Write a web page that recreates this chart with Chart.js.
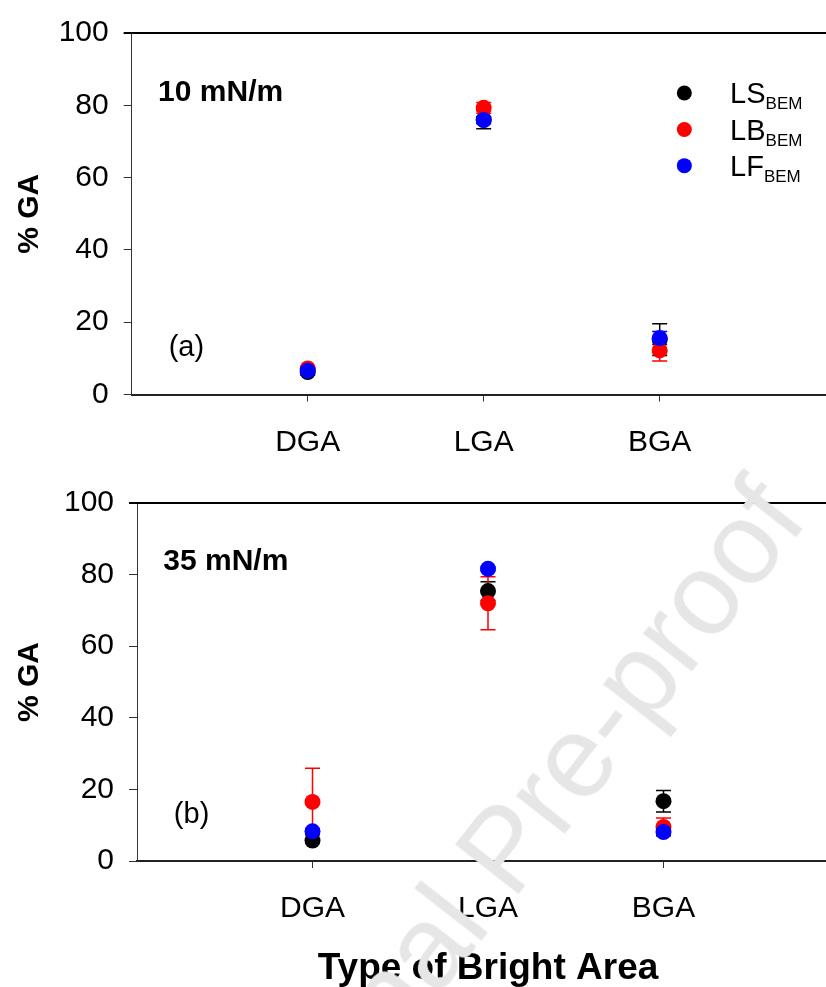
<!DOCTYPE html>
<html>
<head>
<meta charset="utf-8">
<script src="https://cdn.jsdelivr.net/npm/chart.js@4.4.1/dist/chart.umd.min.js"></script>
<style>
  body { margin: 0; background: #fff; overflow: hidden; width: 826px; height: 987px; position: relative; }
  .panel { position: absolute; left: 0; }
  #wm {
    position: absolute; left: 181px; top: 1166px; white-space: nowrap;
    font: 116px/1 "Liberation Sans", Arial, sans-serif; color: #e6e6e6;
    transform-origin: 0 0; transform: rotate(-52deg); pointer-events: none;
  }
</style>
</head>
<body>
<div class="panel" style="top:0"><canvas id="chartA" width="850" height="470"></canvas></div>
<div class="panel" style="top:470px"><canvas id="chartB" width="850" height="517"></canvas></div>
<div id="wm">Journal Pre-proof</div>
<script>
const FONT = '"Liberation Sans", Arial, sans-serif';

const categories = ['DGA', 'LGA', 'BGA'];
const yTicks = [0, 20, 40, 60, 80, 100];
const seriesNames = ['LS', 'LB', 'LF'];
const seriesSub = 'BEM';
const seriesColors = ['#000000', '#ff0000', '#0000ff'];

// (a) 10 mN/m
const ls10 = [6.2, 76.0, 15.2];
const ls10Err = [0.8, 2.5, 4.4];
const lb10 = [7.2, 79.3, 12.2];
const lb10Err = [0.5, 1.5, 2.9];
const lf10 = [6.6, 75.9, 15.6];
const lf10Err = [0.5, 1.0, 1.8];

// (b) 35 mN/m
const ls35 = [5.7, 75.4, 16.7];
const ls35Err = [0.5, 2.6, 3.0];
const lb35 = [16.5, 72.0, 9.5];
const lb35Err = [9.4, 7.4, 2.5];
const lf35 = [8.3, 81.6, 8.1];
const lf35Err = [0.8, 0.5, 1.0];

// error bars drawn under the points
const errorBars = {
  id: 'errorBars',
  beforeDatasetsDraw(chart) {
    const { ctx, scales: { x, y } } = chart;
    chart.data.datasets.forEach(ds => {
      ctx.save();
      ctx.strokeStyle = ds.backgroundColor;
      ctx.lineWidth = 1.5;
      ds.data.forEach((p, i) => {
        const e = ds.errors[i];
        const px = x.getPixelForValue(p.x);
        const top = y.getPixelForValue(p.y + e);
        const bot = y.getPixelForValue(p.y - e);
        ctx.beginPath();
        ctx.moveTo(px, top); ctx.lineTo(px, bot);
        ctx.moveTo(px - 7.5, top); ctx.lineTo(px + 7.5, top);
        ctx.moveTo(px - 7.5, bot); ctx.lineTo(px + 7.5, bot);
        ctx.stroke();
      });
      ctx.restore();
    });
  }
};

// frame line on top, panel labels, legend
const extras = {
  id: 'extras',
  afterDraw(chart, args, opts) {
    const { ctx, chartArea, scales: { x, y } } = chart;
    ctx.save();
    ctx.strokeStyle = '#000';
    ctx.lineWidth = 2;
    ctx.beginPath();
    ctx.moveTo(chartArea.left - 8, chartArea.top);
    ctx.lineTo(chart.width, chartArea.top);
    ctx.stroke();

    ctx.fillStyle = '#000';
    ctx.textBaseline = 'middle';
    ctx.textAlign = 'left';
    ctx.font = 'bold 30px ' + FONT;
    ctx.fillText(opts.pressure, x.getPixelForValue(0.15), y.getPixelForValue(83.5));
    ctx.font = '29px ' + FONT;
    ctx.fillText(opts.tag, x.getPixelForValue(0.21), y.getPixelForValue(12.8));

    if (opts.legend) {
      const rows = [83.4, 73.3, 63.3];
      seriesNames.forEach((name, i) => {
        const cy = y.getPixelForValue(rows[i]);
        ctx.fillStyle = seriesColors[i];
        ctx.beginPath();
        ctx.arc(x.getPixelForValue(3.14), cy, 7.5, 0, Math.PI * 2);
        ctx.fill();
        ctx.fillStyle = '#000';
        ctx.textBaseline = 'alphabetic';
        ctx.font = '29px ' + FONT;
        const tx = x.getPixelForValue(3.4);
        ctx.fillText(name, tx, cy + 10);
        const w = ctx.measureText(name).width;
        ctx.font = '17px ' + FONT;
        ctx.fillText(seriesSub, tx + w, cy + 16);
      });
    }
    ctx.restore();
  }
};

function makeDatasets(vals, errs) {
  return vals.map((v, k) => ({
    label: seriesNames[k] + seriesSub,
    data: v.map((val, i) => ({ x: i + 1, y: val })),
    errors: errs[k],
    backgroundColor: seriesColors[k],
    borderColor: seriesColors[k],
    pointRadius: 8,
    pointHoverRadius: 8,
    pointBorderWidth: 0,
    showLine: false,
    order: 3 - k
  }));
}

function makeChart(id, vals, errs, o) {
  return new Chart(document.getElementById(id), {
    type: 'scatter',
    data: { datasets: makeDatasets(vals, errs) },
    plugins: [errorBars, extras],
    options: {
      responsive: false,
      animation: false,
      layout: { padding: { top: o.top, right: o.right, left: 0, bottom: 0 } },
      plugins: {
        legend: { display: false },
        tooltip: { enabled: false },
        extras: { pressure: o.pressure, tag: o.tag, legend: o.legend }
      },
      scales: {
        x: {
          type: 'linear', min: 0, max: 4,
          afterBuildTicks: s => { s.ticks = categories.map((c, i) => ({ value: i + 1 })); },
          afterFit: s => { s.height = o.xHeight; },
          ticks: {
            callback: v => categories[v - 1],
            font: { size: 30, family: FONT }, color: '#000', padding: 23, maxRotation: 0
          },
          grid: { drawOnChartArea: false, tickLength: 7, color: '#333', lineWidth: 1 },
          border: { color: '#222', width: 2 },
          title: o.xTitle
            ? { display: true, text: 'Type of Bright Area', color: '#000',
                font: { size: 37, weight: 'bold', family: FONT, lineHeight: 1 }, padding: { top: 0, bottom: 0 } }
            : { display: false }
        },
        y: {
          min: 0, max: 100,
          afterBuildTicks: s => { s.ticks = yTicks.map(v => ({ value: v })); },
          afterFit: s => { s.width = o.yWidth; },
          ticks: { font: { size: 30, family: FONT }, color: '#000', padding: 15 },
          grid: { drawOnChartArea: false, tickLength: 8, color: '#333', lineWidth: 1 },
          border: { color: '#333', width: 1 },
          title: { display: true, text: '% GA', color: '#000',
                   font: { size: 30, weight: 'bold', family: FONT }, padding: { top: 12, bottom: 0 } }
        }
      }
    }
  });
}

makeChart('chartA', [ls10, lb10, lf10], [ls10Err, lb10Err, lf10Err],
  { top: 25, right: 14.3, xHeight: 75.5, yWidth: 131.7, pressure: '10 mN/m', tag: '(a)', legend: true, xTitle: false });
makeChart('chartB', [ls35, lb35, lf35], [ls35Err, lb35Err, lf35Err],
  { top: 20, right: 11, xHeight: 126, yWidth: 137, pressure: '35 mN/m', tag: '(b)', legend: false, xTitle: true });
</script>
</body>
</html>
